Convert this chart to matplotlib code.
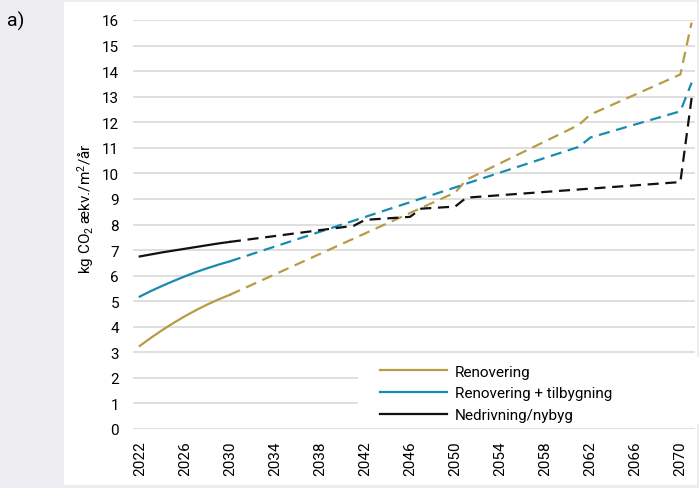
import numpy as np
import matplotlib
matplotlib.use('Agg')
import matplotlib.pyplot as plt
from matplotlib.patches import Rectangle

plt.rcParams['font.family'] = ['Roboto', 'DejaVu Sans']
plt.rcParams['mathtext.default'] = 'regular'

# solid part (2022-2030)
years_solid = [2022, 2023, 2024, 2025, 2026, 2027, 2028, 2029, 2030]
renov_solid = [3.25, 3.57, 3.87, 4.15, 4.41, 4.65, 4.87, 5.07, 5.25]
tilbyg_solid = [5.18, 5.40, 5.60, 5.79, 5.97, 6.14, 6.29, 6.43, 6.56]
nybyg_solid = [6.75, 6.83, 6.91, 6.98, 7.05, 7.12, 7.19, 7.26, 7.32]

# dashed part (2030-2071), knick points
renov_years = [2030, 2050, 2051, 2061, 2062, 2070, 2071]
renov_vals = [5.25, 9.25, 9.75, 11.9, 12.3, 13.87, 15.9]
tilbyg_years = [2030, 2050, 2051, 2061, 2062, 2070, 2071]
tilbyg_vals = [6.56, 9.45, 9.6, 11.04, 11.4, 12.43, 13.55]
nybyg_years = [2030, 2041, 2042, 2046, 2047, 2050, 2051, 2070, 2071]
nybyg_vals = [7.32, 7.95, 8.18, 8.3, 8.62, 8.7, 9.05, 9.66, 12.95]

labels = ['Renovering', 'Renovering + tilbygning', 'Nedrivning/nybyg']
colors = ['#B99A45', '#1A8BB0', '#111111']

fig = plt.figure(figsize=(6.99, 4.89), dpi=100)
fig.patch.set_facecolor('#ECECF1')
fig.patches.append(Rectangle((64/699, 3/489), 633/699, 483/489, transform=fig.transFigure,
                             facecolor='white', edgecolor='none', zorder=-10))
fig.text(7/699, 1 - 21/489, 'a)', fontsize=14, va='center', ha='left')

ax = fig.add_axes([133/699, 1 - 430/489, 562/699, 409/489])
ax.set_facecolor('none')

solids = [renov_solid, tilbyg_solid, nybyg_solid]
dash_x = [renov_years, tilbyg_years, nybyg_years]
dash_y = [renov_vals, tilbyg_vals, nybyg_vals]
for i in range(3):
    ax.plot(years_solid, solids[i], color=colors[i], lw=1.6, label=labels[i], zorder=3)
    ax.plot(dash_x[i], dash_y[i], color=colors[i], lw=1.6, ls=(0, (5, 3)), zorder=3)

ax.set_xlim(2021.4, 2071.3)
ax.set_ylim(0, 16)
ax.set_yticks(range(0, 17))
ax.set_xticks(range(2022, 2071, 4))
ax.tick_params(axis='x', rotation=90, length=0, pad=8, labelsize=11)
ax.tick_params(axis='y', length=0, pad=10, labelsize=11)
ax.grid(axis='y', color='#DCDCDC', lw=1.3)
ax.set_axisbelow(True)
for sp in ax.spines.values():
    sp.set_visible(False)
ax.set_ylabel('kg CO$_2$ ækv./m$^2$/år', fontsize=11)
ax.yaxis.set_label_coords(-0.066, 0.54)

# white area behind legend
ax.add_patch(Rectangle((0.40, 0.012), 0.61, 0.163, transform=ax.transAxes,
                       facecolor='white', edgecolor='none', zorder=2, clip_on=False))
ax.legend(loc='upper left', bbox_to_anchor=(0.4395, 0.157), frameon=False,
          fontsize=11, handlelength=4.4, handletextpad=0.5, labelspacing=0.5,
          borderpad=0, borderaxespad=0)

plt.savefig('out.png', dpi=100, facecolor=fig.get_facecolor())
